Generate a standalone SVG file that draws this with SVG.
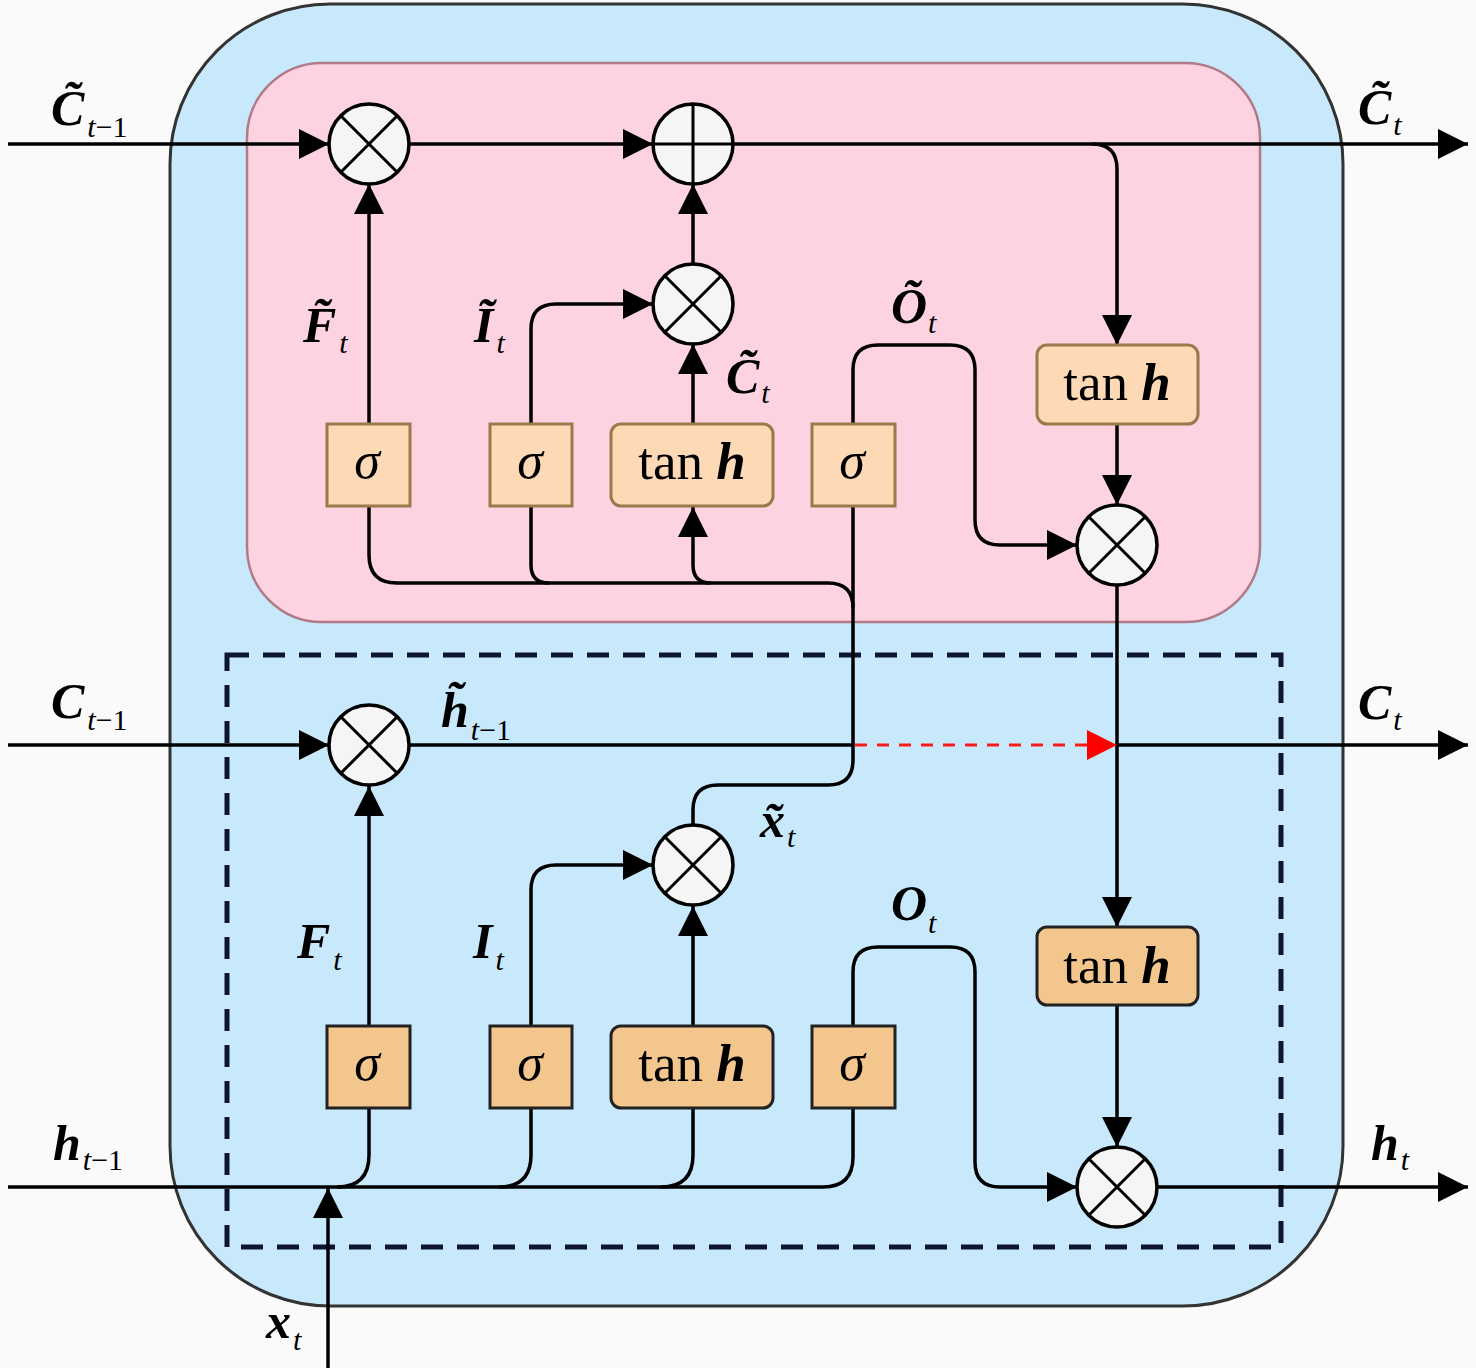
<svg xmlns="http://www.w3.org/2000/svg" width="1476" height="1368" viewBox="0 0 1476 1368">
<defs>
<marker id="ah" viewBox="0 0 10 10" refX="10" refY="5" markerWidth="30" markerHeight="30" markerUnits="userSpaceOnUse" orient="auto"><path d="M0,0 L10,5 L0,10 z" fill="#000"/></marker>
<marker id="ahr" viewBox="0 0 10 10" refX="10" refY="5" markerWidth="30" markerHeight="30" markerUnits="userSpaceOnUse" orient="auto"><path d="M0,0 L10,5 L0,10 z" fill="#ff0000"/></marker>
<style>
.ln{fill:none;stroke:#000;stroke-width:3.5}
.arr{marker-end:url(#ah)}
.op{fill:#f5f5f5;stroke:#000;stroke-width:3.5}
.opx{stroke:#000;stroke-width:3}
.bt{fill:#fdd9b6;stroke:#9a7a4a;stroke-width:3}
.bb{fill:#f2c68c;stroke:#222;stroke-width:3}
text{font-family:'Liberation Serif','Times New Roman','DejaVu Serif',serif}
.sig{font-style:italic;font-size:52px;text-anchor:middle}
.th{font-size:53px;text-anchor:middle}
.v{font-style:italic;font-weight:bold;font-size:50px}
.s{font-size:30px}
</style>
</defs>
<rect width="1476" height="1368" fill="#fafafa"/>
<rect id="outer" x="170" y="4" width="1173" height="1302" rx="160" ry="160" fill="#c8e8fc" stroke="#333" stroke-width="3"/>
<rect id="upper" x="247" y="63" width="1013" height="559" rx="75" ry="75" fill="#fdd3e2" stroke="#b07a86" stroke-width="2.5"/>
<rect id="dashed" x="227" y="655" width="1054" height="592" fill="none" stroke="#0d1530" stroke-width="5" stroke-dasharray="22 14"/>

<g id="connectors">
<path class="ln arr" d="M8,144 H329"/>
<path class="ln arr" d="M409,144 H653"/>
<path class="ln arr" d="M733,144 H1468"/>
<path class="ln arr" d="M1092,144 Q1117,144 1117,169 V345"/>
<path class="ln arr" d="M369,424 V184"/>
<path class="ln arr" d="M531,424 V329 Q531,304 556,304 H653"/>
<path class="ln arr" d="M693,424 V344"/>
<path class="ln arr" d="M693,264 V184"/>
<path class="ln arr" d="M853,424 V370 Q853,345 878,345 H950 Q975,345 975,370 V520 Q975,545 1000,545 H1077"/>
<path class="ln arr" d="M1117,425 V505"/>
<path class="ln arr" d="M1117,585 V927"/>
<path class="ln arr" d="M1117,1005 V1147"/>
<path class="ln arr" d="M1157,1187 H1468"/>
<path class="ln" d="M853,506 V760 Q853,785 828,785 H718 Q693,785 693,810 V825"/>
<path class="ln" d="M369,506 V555 Q369,583 397,583 H828 Q853,583 853,608"/>
<path class="ln" d="M531,506 V565 Q531,583 549,583"/>
<path class="ln arr" d="M711,583 Q693,583 693,565 V507"/>
<path class="ln arr" d="M8,745 H329"/>
<path class="ln" d="M409,745 H853"/>
<path d="M855,745 H1117" fill="none" stroke="#ff1a1a" stroke-width="3" stroke-dasharray="12 10" marker-end="url(#ahr)"/>
<path class="ln arr" d="M1117,745 H1468"/>
<path class="ln arr" d="M369,1026 V786"/>
<path class="ln arr" d="M531,1026 V890 Q531,865 556,865 H653"/>
<path class="ln arr" d="M693,1026 V906"/>
<path class="ln arr" d="M853,1026 V972 Q853,947 878,947 H950 Q975,947 975,972 V1162 Q975,1187 1000,1187 H1077"/>
<path class="ln" d="M8,1187 H823 Q853,1187 853,1157 V1108"/>
<path class="ln" d="M369,1108 V1155 Q369,1187 337,1187"/>
<path class="ln" d="M531,1108 V1155 Q531,1187 499,1187"/>
<path class="ln" d="M693,1108 V1155 Q693,1187 661,1187"/>
<path class="ln arr" d="M328,1368 V1188"/>
</g>

<g id="mul_c1"><circle class="op" cx="369" cy="144" r="40"/><path class="opx" d="M341,116 L397,172 M397,116 L341,172"/></g>
<g id="add_c"><circle class="op" cx="693" cy="144" r="40"/><path class="opx" d="M693,104 V184 M653,144 H733"/></g>
<g id="mul_ic"><circle class="op" cx="693" cy="304" r="40"/><path class="opx" d="M665,276 L721,332 M721,276 L665,332"/></g>
<g id="mul_o1"><circle class="op" cx="1117" cy="545" r="40"/><path class="opx" d="M1089,517 L1145,573 M1145,517 L1089,573"/></g>
<g id="mul_c2"><circle class="op" cx="369" cy="745" r="40"/><path class="opx" d="M341,717 L397,773 M397,717 L341,773"/></g>
<g id="mul_ix"><circle class="op" cx="693" cy="865" r="40"/><path class="opx" d="M665,837 L721,893 M721,837 L665,893"/></g>
<g id="mul_o2"><circle class="op" cx="1117" cy="1187" r="40"/><path class="opx" d="M1089,1159 L1145,1215 M1145,1159 L1089,1215"/></g>

<g id="sig_f1"><rect class="bt" x="327" y="424" width="83" height="82"/><text class="sig" x="367" y="478">σ</text></g>
<g id="sig_i1"><rect class="bt" x="490" y="424" width="82" height="82"/><text class="sig" x="530" y="478">σ</text></g>
<g id="tanh_1"><rect class="bt" x="611" y="424" width="162" height="82" rx="10"/><text class="th" x="692" y="479">tan <tspan font-weight="bold" font-style="italic">h</tspan></text></g>
<g id="sig_o1"><rect class="bt" x="812" y="424" width="83" height="82"/><text class="sig" x="852" y="478">σ</text></g>
<g id="tanh_r1"><rect class="bt" x="1037" y="345" width="161" height="79" rx="10"/><text class="th" x="1117" y="400">tan <tspan font-weight="bold" font-style="italic">h</tspan></text></g>

<g id="sig_f2"><rect class="bb" x="327" y="1026" width="83" height="82"/><text class="sig" x="367" y="1080">σ</text></g>
<g id="sig_i2"><rect class="bb" x="490" y="1026" width="82" height="82"/><text class="sig" x="530" y="1080">σ</text></g>
<g id="tanh_2"><rect class="bb" x="611" y="1026" width="162" height="82" rx="10"/><text class="th" x="692" y="1081">tan <tspan font-weight="bold" font-style="italic">h</tspan></text></g>
<g id="sig_o2"><rect class="bb" x="812" y="1026" width="83" height="82"/><text class="sig" x="852" y="1080">σ</text></g>
<g id="tanh_r2"><rect class="bb" x="1037" y="927" width="161" height="78" rx="10"/><text class="th" x="1117" y="983">tan <tspan font-weight="bold" font-style="italic">h</tspan></text></g>

<g id="labels">
<text x="51" y="125"><tspan class="v">C&#x303;</tspan><tspan class="s" dx="3" dy="12" font-style="italic">t</tspan><tspan class="s">−1</tspan></text>
<text x="1358" y="124"><tspan class="v">C&#x303;</tspan><tspan class="s" dx="2" dy="11" font-style="italic">t</tspan></text>
<text x="303" y="342"><tspan class="v">F&#x303;</tspan><tspan class="s" dx="3" dy="11" font-style="italic">t</tspan></text>
<text x="474" y="342"><tspan class="v">I&#x303;</tspan><tspan class="s" dx="3" dy="11" font-style="italic">t</tspan></text>
<text x="726" y="393"><tspan class="v">C&#x303;</tspan><tspan class="s" dx="2" dy="10" font-style="italic">t</tspan></text>
<text x="891" y="323"><tspan class="v">O&#x303;</tspan><tspan class="s" dx="1" dy="10" font-style="italic">t</tspan></text>
<text x="51" y="718"><tspan class="v">C</tspan><tspan class="s" dx="3" dy="12" font-style="italic">t</tspan><tspan class="s">−1</tspan></text>
<text x="441" y="727"><tspan class="v">h&#x303;</tspan><tspan class="s" dx="2" dy="13" font-style="italic">t</tspan><tspan class="s">−1</tspan></text>
<text x="1358" y="719"><tspan class="v">C</tspan><tspan class="s" dx="2" dy="11" font-style="italic">t</tspan></text>
<text x="760" y="837"><tspan class="v">x&#x303;</tspan><tspan class="s" dx="2" dy="10" font-style="italic">t</tspan></text>
<text x="297" y="958"><tspan class="v">F</tspan><tspan class="s" dx="3" dy="12" font-style="italic">t</tspan></text>
<text x="473" y="958"><tspan class="v">I</tspan><tspan class="s" dx="3" dy="12" font-style="italic">t</tspan></text>
<text x="891" y="920"><tspan class="v">O</tspan><tspan class="s" dx="1" dy="13" font-style="italic">t</tspan></text>
<text x="53" y="1160"><tspan class="v">h</tspan><tspan class="s" dx="2" dy="10" font-style="italic">t</tspan><tspan class="s">−1</tspan></text>
<text x="1371" y="1160"><tspan class="v">h</tspan><tspan class="s" dx="2" dy="10" font-style="italic">t</tspan></text>
<text x="266" y="1338"><tspan class="v">x</tspan><tspan class="s" dx="2" dy="12" font-style="italic">t</tspan></text>
</g>
</svg>
